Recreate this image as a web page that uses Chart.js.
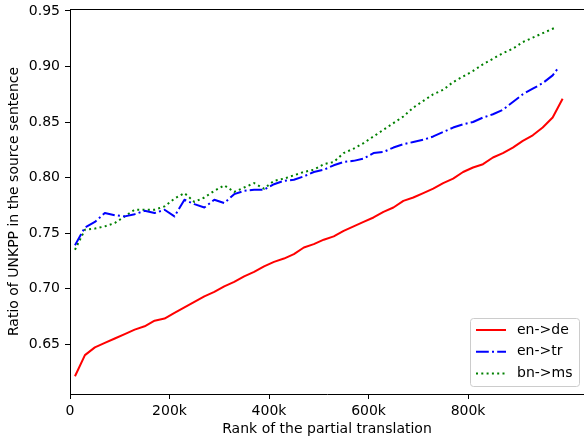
<!DOCTYPE html>
<html>
<head>
<meta charset="utf-8">
<script src="https://cdn.jsdelivr.net/npm/chart.js@4"></script>
<style>
    body { margin: 0; background: #fff; }
</style>
</head>
<body>
<canvas id="lineChart" width="584" height="441"></canvas>
<script>
// rank of the partial translation, in thousands
const ranks = [10, 30, 50, 70, 90, 110, 130, 150, 170, 190, 210, 230, 250, 270, 290, 310, 330, 350, 370, 390,
    410, 430, 450, 470, 490, 510, 530, 550, 570, 590, 610, 630, 650, 670, 690, 710, 730, 750, 770, 790,
    810, 830, 850, 870, 890, 910, 930, 950, 970];
// last point of each series (en->de, en->tr, bn->ms)
const endRanks = [990, 980, 975];

const enDe = [0.621, 0.640, 0.647, 0.651, 0.655, 0.659, 0.663, 0.666, 0.671, 0.673, 0.678, 0.683, 0.688, 0.693, 0.697, 0.702, 0.706, 0.711, 0.715, 0.720,
    0.724, 0.727, 0.731, 0.737, 0.740, 0.744, 0.747, 0.752, 0.756, 0.760, 0.764, 0.769, 0.773, 0.779, 0.782, 0.786, 0.790, 0.795, 0.799, 0.805,
    0.809, 0.812, 0.818, 0.822, 0.827, 0.833, 0.838, 0.845, 0.854, 0.871];
const enTr = [0.739, 0.755, 0.760, 0.768, 0.766, 0.765, 0.767, 0.770, 0.768, 0.771, 0.765, 0.780, 0.776, 0.773, 0.780, 0.777, 0.785, 0.788, 0.789, 0.789,
    0.794, 0.797, 0.798, 0.801, 0.805, 0.807, 0.811, 0.814, 0.815, 0.817, 0.822, 0.823, 0.827, 0.830, 0.832, 0.834, 0.837, 0.841, 0.845, 0.848,
    0.850, 0.854, 0.857, 0.861, 0.868, 0.875, 0.880, 0.885, 0.892, 0.898];
const bnMs = [0.735, 0.753, 0.754, 0.756, 0.759, 0.765, 0.771, 0.771, 0.771, 0.774, 0.781, 0.786, 0.778, 0.782, 0.788, 0.793, 0.787, 0.791, 0.795, 0.790,
    0.797, 0.799, 0.802, 0.805, 0.807, 0.812, 0.814, 0.822, 0.826, 0.831, 0.837, 0.843, 0.849, 0.855, 0.863, 0.869, 0.875, 0.879, 0.886, 0.891,
    0.896, 0.902, 0.907, 0.912, 0.916, 0.922, 0.926, 0.930, 0.934, 0.935];

const xTicks = [0, 200, 400, 600, 800];
const yTicks = [0.65, 0.70, 0.75, 0.80, 0.85, 0.90, 0.95];

function points(values, i) {
    return ranks.concat([endRanks[i]]).map((x, j) => ({ x: x, y: values[j] }));
}

// matplotlib-like legend box in the lower right corner
const boxLegend = {
    id: 'boxLegend',
    afterDatasetsDraw(chart) {
        const ctx = chart.ctx;
        const x0 = 470.5, y0 = 318.5, w = 109, h = 68;
        ctx.save();
        ctx.beginPath();
        ctx.roundRect(x0, y0, w, h, 3);
        ctx.fillStyle = 'rgba(255,255,255,0.8)';
        ctx.fill();
        ctx.strokeStyle = '#cccccc';
        ctx.lineWidth = 1;
        ctx.stroke();
        chart.data.datasets.forEach((ds, i) => {
            const y = 330 + i * 21.7;
            ctx.beginPath();
            ctx.setLineDash(ds.borderDash || []);
            ctx.strokeStyle = ds.borderColor;
            ctx.lineWidth = ds.borderWidth;
            ctx.moveTo(476, y);
            ctx.lineTo(506, y);
            ctx.stroke();
            ctx.setLineDash([]);
            ctx.fillStyle = '#000';
            ctx.font = '14px "DejaVu Sans"';
            ctx.textBaseline = 'middle';
            ctx.fillText(ds.label, 517, y);
        });
        ctx.restore();
    },
    afterDraw(chart) {
        // top spine
        const a = chart.chartArea;
        const ctx = chart.ctx;
        ctx.save();
        ctx.strokeStyle = '#000';
        ctx.lineWidth = 1;
        ctx.beginPath();
        ctx.moveTo(a.left, a.top + 0.5);
        ctx.lineTo(a.right, a.top + 0.5);
        ctx.stroke();
        ctx.restore();
    }
};

Chart.defaults.font.family = '"DejaVu Sans"';
Chart.defaults.font.size = 14;
Chart.defaults.color = '#000';

const ctxLine = document.getElementById('lineChart').getContext('2d');
const lineChart = new Chart(ctxLine, {
    type: 'line',
    data: {
        datasets: [{
            label: 'en->de',
            data: points(enDe, 0),
            borderColor: '#ff0000',
            borderWidth: 2
        },
        {
            label: 'en->tr',
            data: points(enTr, 1),
            borderColor: '#0000ff',
            borderWidth: 2,
            borderDash: [12.8, 3.2, 2, 3.2]
        },
        {
            label: 'bn->ms',
            data: points(bnMs, 2),
            borderColor: '#008000',
            borderWidth: 2,
            borderDash: [2, 3.3]
        }]
    },
    options: {
        responsive: false,
        animation: false,
        devicePixelRatio: 1,
        layout: { padding: { top: 9, right: 0, left: 0, bottom: 0 } },
        elements: {
            point: { radius: 0 },
            line: { tension: 0, fill: false, borderJoinStyle: 'round' }
        },
        plugins: {
            legend: { display: false },
            tooltip: { enabled: false }
        },
        scales: {
            x: {
                type: 'linear',
                min: 0,
                max: 1033,
                afterBuildTicks: scale => { scale.ticks = xTicks.map(v => ({ value: v })); },
                afterFit: scale => {
                    scale.height = 47;
                    scale.paddingLeft = 0;
                    scale.paddingRight = 0;
                },
                grid: { drawOnChartArea: false, tickLength: 5, color: '#000' },
                border: { color: '#000', width: 1 },
                ticks: {
                    padding: 4,
                    maxRotation: 0,
                    callback: v => v === 0 ? '0' : v + 'k'
                },
                title: {
                    display: true,
                    text: 'Rank of the partial translation',
                    padding: { top: 0, bottom: 3 }
                }
            },
            y: {
                min: 0.605,
                max: 0.9518,
                afterBuildTicks: scale => { scale.ticks = yTicks.map(v => ({ value: v })); },
                afterFit: scale => {
                    scale.width = 70;
                    scale.paddingTop = 0;
                    scale.paddingBottom = 0;
                },
                grid: { drawOnChartArea: false, tickLength: 5, color: '#000' },
                border: { color: '#000', width: 1 },
                ticks: {
                    padding: 5,
                    callback: v => v.toFixed(2)
                },
                title: {
                    display: true,
                    text: 'Ratio of UNKPP in the source sentence',
                    padding: { top: 6, bottom: 0 }
                }
            }
        }
    },
    plugins: [boxLegend]
});
</script>
</body>
</html>
